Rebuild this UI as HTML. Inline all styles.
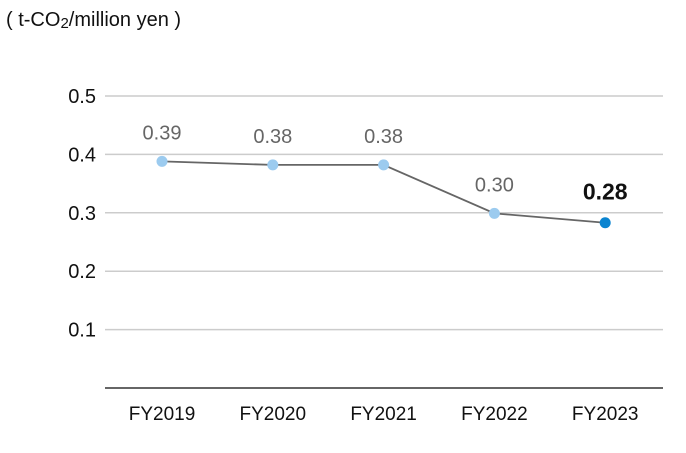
<!DOCTYPE html>
<html><head><meta charset="utf-8"><style>
body{margin:0;background:#fff;width:686px;height:448px;overflow:hidden;font-family:"Liberation Sans",sans-serif}
</style></head><body>
<svg width="686" height="448">
<text x="6" y="26" font-size="20" fill="#111">( t-CO<tspan font-size="15" dy="2">2</tspan><tspan dy="-2">/million yen )</tspan></text>
<g id="grid"></g><g id="xl"></g><g id="series"></g>
</svg>
<script>
const categories=["FY2019","FY2020","FY2021","FY2022","FY2023"];
const values=[0.388,0.382,0.382,0.299,0.283];
const valueLabels=["0.39","0.38","0.38","0.30","0.28"];
const yTicks=[0.1,0.2,0.3,0.4,0.5];
const yTickLabels=["0.1","0.2","0.3","0.4","0.5"];
const NS="http://www.w3.org/2000/svg";
const y=v=>388-v*584;
const x=i=>162+i*110.8;
function mk(t,a,p){const e=document.createElementNS(NS,t);for(const k in a)e.setAttribute(k,a[k]);p.appendChild(e);return e;}
const g=document.getElementById('grid');
yTicks.forEach((v,i)=>{
 const l=mk('line',{x1:105,x2:663,y1:y(v),y2:y(v),stroke:'#ccc','stroke-width':1.5},g);
 
 
 const t=mk('text',{x:96,y:y(v)+7,'text-anchor':'end','font-size':20,fill:'#111'},g);
 t.textContent=yTickLabels[i];
 
 
});
const ax=mk('line',{x1:105,x2:663,y1:388,y2:388,stroke:'#333','stroke-width':1.5},g);


const xl=document.getElementById('xl');
categories.forEach((c,i)=>{
 const t=mk('text',{x:x(i),y:420,'text-anchor':'middle','font-size':19,fill:'#111'},xl);
 t.textContent=c;
 
 
});
const s=document.getElementById('series');
const pl=mk('polyline',{points:values.map((v,i)=>x(i)+','+y(v)).join(' '),fill:'none',stroke:'#666','stroke-width':1.8},s);


values.forEach((v,i)=>{
 const last=i===values.length-1;
 const c=mk('circle',{cx:x(i),cy:y(v),r:5.5,fill:last?'#0a84d0':'#9ccbef'},s);
 
 
 const t=mk('text',{x:x(i),y:y(v)-(last?23:22),'text-anchor':'middle','font-size':last?23:20,'font-weight':last?'bold':'normal',fill:last?'#111':'#666'},s);
 t.textContent=valueLabels[i];
 
 
});
</script>
</body></html>
